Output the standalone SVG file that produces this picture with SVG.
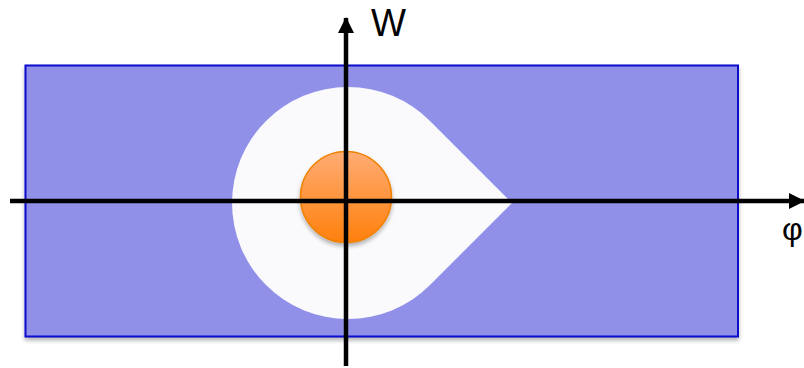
<svg xmlns="http://www.w3.org/2000/svg" width="804" height="368" viewBox="0 0 804 368">
<style>
.axis{stroke:#000;stroke-width:4.5;fill:none}
.lbl{font-family:"Liberation Sans","Open Sans",sans-serif;fill:#000}
</style>
<defs>
<linearGradient id="og" x1="0" y1="0" x2="0" y2="1">
<stop offset="0" stop-color="#ffac74"/>
<stop offset="1" stop-color="#ff800c"/>
</linearGradient>
<filter id="sh" x="-20%" y="-20%" width="140%" height="140%">
<feGaussianBlur in="SourceAlpha" stdDeviation="2"/>
<feOffset dx="0" dy="3"/>
<feComponentTransfer><feFuncA type="linear" slope="0.3"/></feComponentTransfer>
<feMerge><feMergeNode/><feMergeNode in="SourceGraphic"/></feMerge>
</filter>
<marker id="ah" markerUnits="userSpaceOnUse" markerWidth="16" markerHeight="16" viewBox="0 0 16 16" refX="15" refY="8" orient="auto">
<path d="M0,0 L16,8 L0,16 Z" fill="#000"/>
</marker>
</defs>
<g id="region">
<rect x="25.5" y="65.5" width="712.5" height="271" fill="#9090e9" stroke="#0a0acc" stroke-width="2" filter="url(#sh)"/>
</g>
<g id="teardrop">
<path d="M512,203 L430,121 A116,116 0 1 0 430,285 Z" fill="#fafafd"/>
</g>
<g id="particle">
<circle cx="346" cy="197" r="45.5" fill="url(#og)" stroke="#f08000" stroke-width="1.5" filter="url(#sh)"/>
</g>
<g id="connectors">
<line class="axis" x1="10" y1="201" x2="804" y2="201" marker-end="url(#ah)"/>
<line class="axis" x1="346" y1="366" x2="346" y2="18" marker-end="url(#ah)"/>
</g>
<g id="labels">
<text class="lbl" x="371" y="36" font-size="38" textLength="35" lengthAdjust="spacingAndGlyphs">W</text>
<text class="lbl" x="782" y="240" font-size="32">φ</text>
</g>
</svg>
